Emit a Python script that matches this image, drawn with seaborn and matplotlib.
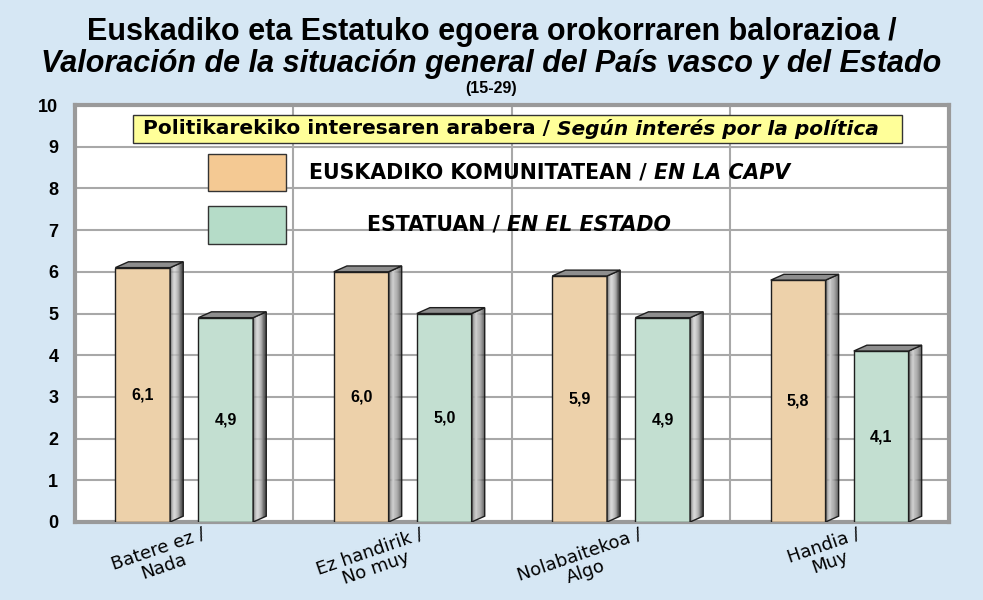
import pandas as pd
import seaborn as sns
import matplotlib.pyplot as plt
import matplotlib.transforms as mtransforms
from matplotlib.patches import Polygon, Rectangle
from matplotlib.colors import LinearSegmentedColormap

# ----------------------------- Datuak / Datos -----------------------------
categories = ["Batere ez /\nNada", "Ez handirik /\nNo muy", "Nolabaitekoa /\nAlgo", "Handia /\nMuy"]
series_names = ["EUSKADIKO KOMUNITATEAN", "ESTATUAN"]
capv_values = [6.1, 6.0, 5.9, 5.8]
estado_values = [4.9, 5.0, 4.9, 4.1]
y_ticks = list(range(0, 11))

df = pd.DataFrame({
    "cat": categories * 2,
    "serie": [series_names[0]] * len(categories) + [series_names[1]] * len(categories),
    "valor": capv_values + estado_values,
})

bg = "#d6e7f4"
face_colors = ["#edd1aa", "#c3dfd1"]
swatch_colors = ["#f4c993", "#b5dcc8"]
side_cmap = LinearSegmentedColormap.from_list("side", ["#6a6a6a", "#d2d2d2", "#9a9a9a", "#303030"])

sns.set_style("white")
plt.rcParams["font.family"] = ["Liberation Sans", "DejaVu Sans"]
plt.rcParams["text.color"] = "black"
plt.rcParams["xtick.color"] = "black"
plt.rcParams["ytick.color"] = "black"

fig = plt.figure(figsize=(9.83, 6.0), dpi=100, facecolor=bg)
ax = fig.add_axes([0.0763, 0.13, 0.889, 0.695])

sns.barplot(data=df, x="cat", y="valor", hue="serie", palette=face_colors,
            width=0.76, gap=0.34, edgecolor="#1e1e1e", linewidth=1,
            saturation=1, legend=False, ax=ax, zorder=3)

# ----------------------------- 3D itxura -----------------------------
dx, dy = 0.06, 0.14
nstrip = 12
for p in list(ax.patches):
    x0, w, h = p.get_x(), p.get_width(), p.get_height()
    x1 = x0 + w
    for k in range(nstrip):
        s0, s1 = k / nstrip, (k + 1) / nstrip
        ax.add_patch(Polygon([(x1 + s0 * dx, s0 * dy), (x1 + s1 * dx, s1 * dy),
                              (x1 + s1 * dx, h + s1 * dy), (x1 + s0 * dx, h + s0 * dy)],
                             closed=True, facecolor=side_cmap((k + 0.5) / nstrip),
                             edgecolor="none", zorder=3))
    ax.add_patch(Polygon([(x1, 0), (x1 + dx, dy), (x1 + dx, h + dy), (x1, h)],
                         closed=True, fill=False, edgecolor="#1e1e1e", lw=1, zorder=3.5))
    ax.add_patch(Polygon([(x0, h), (x0 + dx, h + dy), (x1 + dx, h + dy), (x1, h)],
                         closed=True, facecolor="#8e8e8e", edgecolor="#1e1e1e", lw=1, zorder=3.5))

for c in ax.containers:
    ax.bar_label(c, labels=[f"{v:.1f}".replace(".", ",") for v in c.datavalues],
                 label_type="center", fontweight="bold", fontsize=11.5, zorder=5)

# ----------------------------- Ardatzak -----------------------------
ax.set_xlim(-0.5, len(categories) - 0.5)
ax.set_ylim(0, 10)
ax.set_yticks(y_ticks)
ax.set_xticks([i + 0.5 for i in range(len(categories) - 1)], minor=True)
ax.set_facecolor("white")
ax.grid(axis="y", which="major", color="#a8a8a8", lw=1.5, zorder=0)
ax.grid(axis="x", which="minor", color="#a8a8a8", lw=1.5, zorder=0)
ax.set_axisbelow(True)
for s in ax.spines.values():
    s.set_color("#9a9a9a")
    s.set_linewidth(3)
ax.tick_params(length=0, which="both")
ax.set_xlabel("")
ax.set_ylabel("")

for lbl in ax.get_yticklabels():
    lbl.set_fontweight("bold")
    lbl.set_fontsize(13)
ax.tick_params(axis="y", pad=12)

ax.set_xticklabels(categories, rotation=19, ha="right", rotation_mode="anchor",
                   fontsize=13, family=["DejaVu Sans"])
ax.tick_params(axis="x", pad=2)
off = mtransforms.ScaledTranslation(0.17, 0, fig.dpi_scale_trans)
for lbl in ax.get_xticklabels():
    lbl.set_multialignment("center")
    lbl.set_linespacing(1.0)
    lbl.set_transform(lbl.get_transform() + off)

# ----------------------------- Izenburua -----------------------------
fig.text(0.5, 0.947, "Euskadiko eta Estatuko egoera orokorraren balorazioa /",
         ha="center", va="center", fontsize=22, fontweight="bold")
fig.text(0.5, 0.894, "Valoración de la situación general del País vasco y del Estado",
         ha="center", va="center", fontsize=22, fontweight="bold", fontstyle="italic")
fig.text(0.5, 0.852, "(15-29)", ha="center", va="center", fontsize=11.5, fontweight="bold")

# ----------------------------- Legenda -----------------------------
fig.patches.append(Rectangle((0.1353, 0.7617), 0.7823, 0.0467, transform=fig.transFigure,
                             facecolor="#ffff99", edgecolor="#333333", lw=1, zorder=4))
fig.patches.append(Rectangle((0.2116, 0.6817), 0.0793, 0.0617, transform=fig.transFigure,
                             facecolor=swatch_colors[0], edgecolor="#333333", lw=1, zorder=4))
fig.patches.append(Rectangle((0.2116, 0.5933), 0.0793, 0.0633, transform=fig.transFigure,
                             facecolor=swatch_colors[1], edgecolor="#333333", lw=1, zorder=4))

fig.canvas.draw()
r = fig.canvas.get_renderer()


def two_part(x, y, a, b, size):
    ta = fig.text(x, y, a, ha="left", va="center", fontsize=size, fontweight="bold",
                  family=["DejaVu Sans"], zorder=5)
    bb = ta.get_window_extent(r).transformed(fig.transFigure.inverted())
    return fig.text(bb.x1, y, b, ha="left", va="center", fontsize=size, fontweight="bold",
                    fontstyle="italic", family=["DejaVu Sans"], zorder=5)


two_part(0.1455, 0.785, "Politikarekiko interesaren arabera / ", "Según interés por la política", 14.5)
two_part(0.3143, 0.7117, series_names[0] + " / ", "EN LA CAPV", 14.8)
two_part(0.3733, 0.625, series_names[1] + " / ", "EN EL ESTADO", 14.8)

fig.savefig("out.png", dpi=100, facecolor=bg)
